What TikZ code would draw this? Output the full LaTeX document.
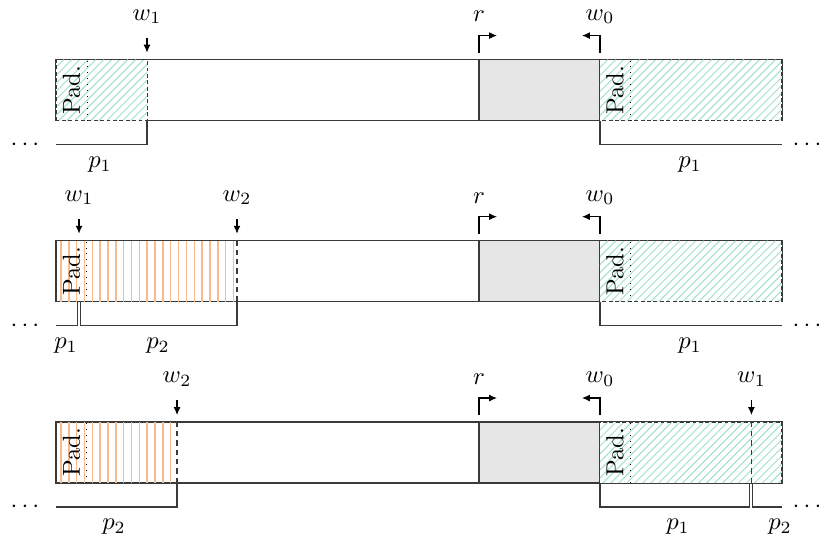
\documentclass[tikz,border=0pt]{standalone}
\usetikzlibrary{arrows.meta}
\definecolor{hatchgreen}{HTML}{A2E0CF}
\definecolor{hatchorange}{HTML}{F6BC90}
\definecolor{usedgray}{HTML}{E6E6E6}
\definecolor{linegray}{HTML}{3A3A3A}

\tikzset{
  buffer/.style={draw=linegray,line width=0.5pt},
  usedpart/.style={fill=usedgray,draw=linegray,line width=0.5pt},
  padborder/.style={draw=linegray,line width=0.4pt,dash pattern=on 1.6pt off 1pt},
  greenline/.style={hatchgreen,line width=0.4pt},
  orangeline/.style={hatchorange,line width=0.6pt},
  padline/.style={dotted,line width=0.4pt},
  wline/.style={linegray,line width=0.5pt,dash pattern=on 2.2pt off 1.6pt},
  ptrarrow/.style={-{Latex[length=3.2pt,width=2.8pt]},line width=0.45pt},
  brace/.style={linegray,line width=0.5pt},
  padtext/.style={rotate=90,inner sep=0pt},
}

% diagonal hatching between x=#1 and x=#2
\newcommand{\greenfill}[2]{
  \fill[white] (#1,0) rectangle (#2,0.871);
  \begin{scope}
    \clip (#1,0) rectangle (#2,0.871);
    \foreach \i in {0,...,34}
      \draw[greenline] ({#1-0.871+\i*0.114},0) -- ++(0.871,0.871);
  \end{scope}
  \draw[padborder] (#1,0) rectangle (#2,0.871);
}
% vertical hatching between x=#1 and x=#2
\newcommand{\orangefill}[2]{
  \begin{scope}
    \clip (#1,0) rectangle (#2,0.871);
    \foreach \i in {0,...,24}
      \draw[orangeline] ({#1+0.071+\i*0.112},0) -- ++(0,0.871);
  \end{scope}
}

\begin{document}
\begin{tikzpicture}
\useasboundingbox (0,0) rectangle (11.7,7.729);

% first state
\begin{scope}[yshift=6.007cm]
  \draw[buffer] (0.8,0) rectangle (11.171,0.871);
  \draw[usedpart] (6.843,0) rectangle (8.571,0.871);
  \greenfill{0.8}{2.1}
  \greenfill{8.571}{11.171}
  \draw[padline] (1.243,0) -- (1.243,0.871);
  \draw[padline] (9.0,0) -- (9.0,0.871);
  \node[padtext] (pada) at (1.02,0.435) {Pad.};
  \node[padtext] (padb) at (8.786,0.435) {Pad.};

  \coordinate (aw1) at (2.1,0.871);
  \coordinate (aw1b) at (2.1,0);
  \coordinate (ar) at (6.843,0.871);
  \coordinate (aw0) at (8.571,0.871);
  \coordinate (aw0b) at (8.571,0);

  \draw[ptrarrow] ([yshift=0.314cm]aw1) -- ([yshift=0.1cm]aw1);
  \node (aw1lab) at ([yshift=0.614cm]aw1) {$w_1$};
  \draw[ptrarrow] ([yshift=0.1cm]ar) -- ([yshift=0.343cm]ar) -- ++(0.257,0);
  \node (arlab) at ([yshift=0.614cm]ar) {$r$};
  \draw[ptrarrow] ([yshift=0.1cm]aw0) -- ([yshift=0.343cm]aw0) -- ++(-0.257,0);
  \node (aw0lab) at ([yshift=0.614cm]aw0) {$w_0$};

  \draw[brace] (0.8,-0.343) -| (aw1b);
  \draw[brace] (aw0b) |- (11.171,-0.343);
  \node (adotl) at (0.357,-0.343) {$\cdots$};
  \node (adotr) at (11.529,-0.343) {$\cdots$};
  \node (ap1l) at (1.429,-0.629) {$p_1$};
  \node (ap1r) at (9.857,-0.629) {$p_1$};
\end{scope}

% second state
\begin{scope}[yshift=3.419cm]
  \draw[buffer] (0.8,0) rectangle (11.171,0.871);
  \draw[usedpart] (6.843,0) rectangle (8.571,0.871);
  \orangefill{0.8}{3.386}
  \greenfill{8.571}{11.171}
  \draw[padline] (1.229,0) -- (1.229,0.871);
  \draw[padline] (9.0,0) -- (9.0,0.871);
  \node[padtext] (padc) at (1.02,0.435) {Pad.};
  \node[padtext] (padd) at (8.786,0.435) {Pad.};

  \coordinate (bw1) at (1.129,0.871);
  \coordinate (bw1b) at (1.129,0);
  \coordinate (bw2) at (3.386,0.871);
  \coordinate (bw2b) at (3.386,0);
  \coordinate (br) at (6.843,0.871);
  \coordinate (bw0) at (8.571,0.871);
  \coordinate (bw0b) at (8.571,0);

  \draw[wline] (bw2b) -- (bw2);
  \draw[ptrarrow] ([yshift=0.314cm]bw1) -- ([yshift=0.1cm]bw1);
  \node (bw1lab) at ([yshift=0.614cm]bw1) {$w_1$};
  \draw[ptrarrow] ([yshift=0.314cm]bw2) -- ([yshift=0.1cm]bw2);
  \node (bw2lab) at ([yshift=0.614cm]bw2) {$w_2$};
  \draw[ptrarrow] ([yshift=0.1cm]br) -- ([yshift=0.343cm]br) -- ++(0.257,0);
  \node (brlab) at ([yshift=0.614cm]br) {$r$};
  \draw[ptrarrow] ([yshift=0.1cm]bw0) -- ([yshift=0.343cm]bw0) -- ++(-0.257,0);
  \node (bw0lab) at ([yshift=0.614cm]bw0) {$w_0$};

  \draw[brace] (0.8,-0.343) -| ([xshift=-0.02cm]bw1b);
  \draw[brace] ([xshift=0.025cm]bw1b) -- ++(0,-0.343) -| (bw2b);
  \draw[brace] (bw0b) |- (11.171,-0.343);
  \node (bdotl) at (0.357,-0.343) {$\cdots$};
  \node (bdotr) at (11.529,-0.343) {$\cdots$};
  \node (bp1l) at (0.943,-0.629) {$p_1$};
  \node (bp2l) at (2.257,-0.629) {$p_2$};
  \node (bp1r) at (9.857,-0.629) {$p_1$};
\end{scope}

% third state
\begin{scope}[yshift=0.829cm]
  \draw[buffer] (0.8,0) rectangle (11.171,0.871);
  \draw[usedpart] (6.843,0) rectangle (8.571,0.871);
  \orangefill{0.8}{2.529}
  \greenfill{8.571}{11.171}
  \draw[padline] (1.229,0) -- (1.229,0.871);
  \draw[padline] (9.0,0) -- (9.0,0.871);
  \node[padtext] (pade) at (1.02,0.435) {Pad.};
  \node[padtext] (padf) at (8.786,0.435) {Pad.};

  \coordinate (cw2) at (2.529,0.871);
  \coordinate (cw2b) at (2.529,0);
  \coordinate (cr) at (6.843,0.871);
  \coordinate (cw0) at (8.571,0.871);
  \coordinate (cw0b) at (8.571,0);
  \coordinate (cw1) at (10.735,0.871);
  \coordinate (cw1b) at (10.735,0);

  \draw[wline] (cw2b) -- (cw2);
  \draw[wline] (cw1b) -- (cw1);
  \draw[ptrarrow] ([yshift=0.314cm]cw2) -- ([yshift=0.1cm]cw2);
  \node (cw2lab) at ([yshift=0.614cm]cw2) {$w_2$};
  \draw[ptrarrow] ([yshift=0.1cm]cr) -- ([yshift=0.343cm]cr) -- ++(0.257,0);
  \node (crlab) at ([yshift=0.614cm]cr) {$r$};
  \draw[ptrarrow] ([yshift=0.1cm]cw0) -- ([yshift=0.343cm]cw0) -- ++(-0.257,0);
  \node (cw0lab) at ([yshift=0.614cm]cw0) {$w_0$};
  \draw[ptrarrow] ([yshift=0.314cm]cw1) -- ([yshift=0.1cm]cw1);
  \node (cw1lab) at ([yshift=0.614cm]cw1) {$w_1$};

  \draw[brace] (0.8,-0.343) -| (cw2b);
  \draw[brace] (cw0b) -- ++(0,-0.343) -| ([xshift=-0.025cm]cw1b);
  \draw[brace] ([xshift=0.02cm]cw1b) |- (11.171,-0.343);
  \node (cdotl) at (0.357,-0.343) {$\cdots$};
  \node (cdotr) at (11.529,-0.343) {$\cdots$};
  \node (cp2l) at (1.629,-0.629) {$p_2$};
  \node (cp1r) at (9.686,-0.629) {$p_1$};
  \node (cp2r) at (11.143,-0.629) {$p_2$};
\end{scope}
\end{tikzpicture}
\end{document}
